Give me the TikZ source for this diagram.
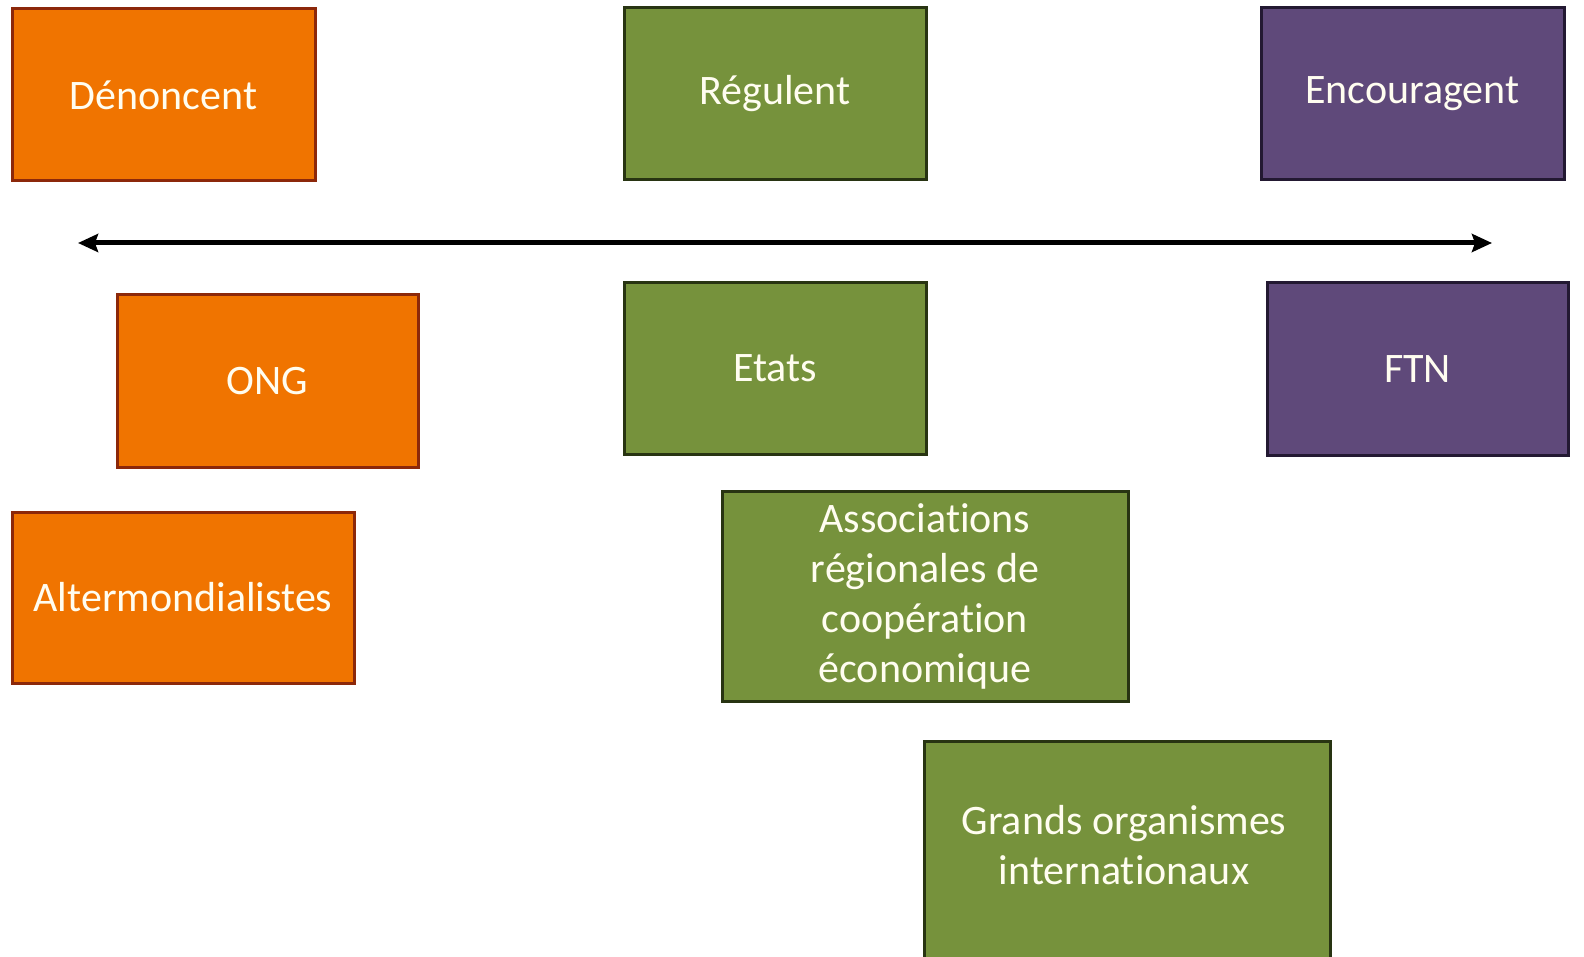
\documentclass[tikz,border=0pt]{standalone}
\usepackage{fontspec}
\setmainfont{Carlito}[Ligatures=NoCommon]
\usetikzlibrary{arrows.meta}
\definecolor{orangefill}{RGB}{240,116,0}
\definecolor{orangeline}{RGB}{140,40,10}
\definecolor{greenfill}{RGB}{118,146,60}
\definecolor{greenline}{RGB}{40,52,18}
\definecolor{purplefill}{RGB}{95,73,122}
\definecolor{purpleline}{RGB}{35,25,50}
\definecolor{labeltext}{RGB}{255,253,240}
\tikzset{
  box/.style={rectangle, line width=3pt, text=labeltext, align=center,
    font=\fontsize{42}{50}\selectfont, inner sep=0pt},
  orangebox/.style={box, fill=orangefill, draw=orangeline},
  greenbox/.style={box, fill=greenfill, draw=greenline},
  purplebox/.style={box, fill=purplefill, draw=purpleline},
  boxtext/.style={text=labeltext, align=center, font=\fontsize{42}{50}\selectfont, inner sep=0pt}
}
\begin{document}
\begin{tikzpicture}[x=1pt,y=-1pt]
\useasboundingbox (0,0) rectangle (1584,957);
\clip (0,0) rectangle (1584,957);
% top row
\node[orangebox, minimum width=303pt, minimum height=172pt] (denoncent) at (163.5,95) {Dénoncent};
\node[greenbox, minimum width=302pt, minimum height=172pt] (regulent) at (775,94) {Régulent};
\node[purplebox, minimum width=303pt, minimum height=172pt] (encouragent) at (1412.5,94) {Encouragent};
% axis
\coordinate (axisleft) at (78,243);
\coordinate (axisright) at (1492,243);
\draw[line width=5pt, {Stealth[length=20pt,width=18pt,inset=3pt]}-{Stealth[length=20pt,width=18pt,inset=3pt]}] (axisleft) -- (axisright);
% actors
\node[orangebox, minimum width=301pt, minimum height=172pt] (ong) at (267.5,381) {ONG};
\node[orangebox, minimum width=342pt, minimum height=171pt] (alter) at (183,597.5) {Altermondialistes};
\node[greenbox, minimum width=302pt, minimum height=171pt] (etats) at (775,368.5) {Etats};
\node[greenbox, minimum width=406pt, minimum height=210pt] (assoc) at (925,596) {Associations\\régionales de\\coopération\\économique};
\node[greenbox, minimum width=406pt, minimum height=240pt, anchor=north] (grands) at (1127,740) {};
\node[boxtext] (grandstext) at (1124,845) {Grands organismes\\internationaux};
\node[purplebox, minimum width=301pt, minimum height=172pt] (ftn) at (1417.5,369) {FTN};
\end{tikzpicture}
\end{document}
